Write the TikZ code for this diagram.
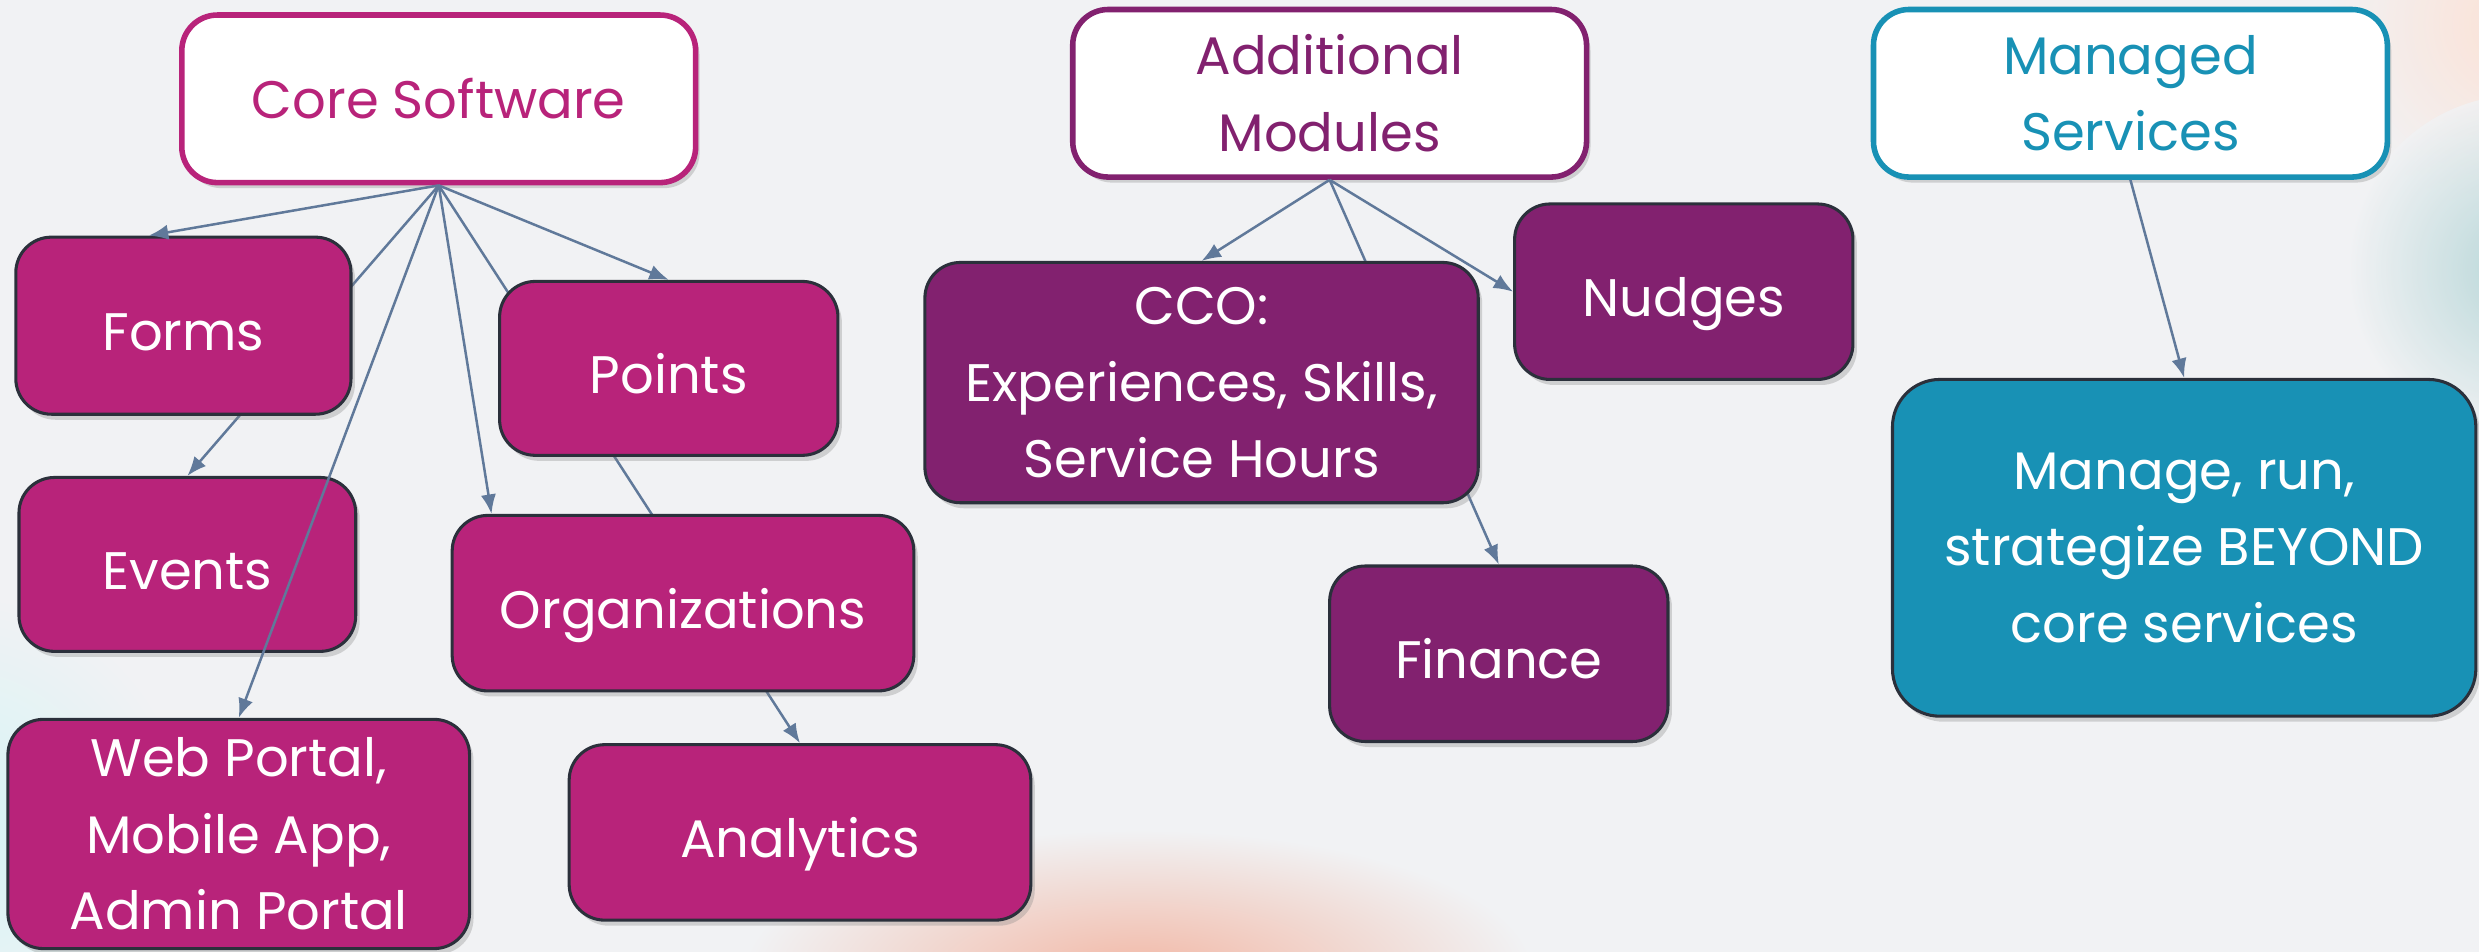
\documentclass[tikz,border=0pt]{standalone}
\usepackage{fontspec}
\setmainfont{Poppins}
\usepackage{tikz}
\usepackage{xcolor}
\usetikzlibrary{shapes, positioning, arrows.meta, shadows, backgrounds}

\definecolor{corecol}{HTML}{B8237A}
\definecolor{addcol}{HTML}{82216F}
\definecolor{mancol}{HTML}{1891B5}
\definecolor{linkcol}{HTML}{60799A}
\definecolor{rimcol}{HTML}{2B303B}
\definecolor{bgcol}{HTML}{F1F2F4}
\definecolor{peachcol}{HTML}{F2B8A6}

\tikzset{
    box/.style={rectangle, rounded corners=0.45cm, align=center, inner sep=2pt,
        font=\fontsize{19}{27.5}\selectfont,
        drop shadow={opacity=0.3, shadow xshift=0.05cm, shadow yshift=-0.07cm}},
    head/.style={box, draw=#1, line width=2pt, fill=white, text=#1,
        minimum width=6.5cm, minimum height=2.12cm},
    leaf/.style={box, draw=rimcol, line width=1.1pt, fill=#1, text=white},
    one/.style={text height=18pt, text depth=0pt},
    link/.style={draw=linkcol, line width=0.9pt, -{Latex[length=7pt, width=5.5pt]}}
}

\begin{document}
\begin{tikzpicture}
        \useasboundingbox (0, 0) rectangle (31.36, -12.04);

        % top row
        \node[head=corecol] (core) at (5.55, -1.25) {Core Software};
        \node[head=addcol] (add) at (16.82, -1.18) {Additional\\Modules};
        \node[head=mancol] (man) at (26.95, -1.18) {Managed\\Services};

        % core software
        \node[leaf=corecol, one, minimum width=4.24cm, minimum height=2.24cm] (forms) at (2.32, -4.12) {Forms};
        \node[leaf=corecol, one, minimum width=4.28cm, minimum height=2.2cm] (points) at (8.46, -4.66) {Points};
        \node[leaf=corecol, one, minimum width=4.26cm, minimum height=2.2cm] (events) at (2.37, -7.14) {Events};
        \node[leaf=corecol, one, minimum width=5.84cm, minimum height=2.22cm] (orgs) at (8.64, -7.63) {Organizations};
        \node[leaf=corecol, minimum width=5.84cm, minimum height=2.9cm] (web) at (3.02, -10.55) {Web Portal,\\Mobile App,\\Admin Portal};
        \node[leaf=corecol, one, minimum width=5.84cm, minimum height=2.22cm] (analytics) at (10.12, -10.53) {Analytics};

        % additional modules
        \node[leaf=addcol, minimum width=7cm, minimum height=3.04cm] (cco) at (15.2, -4.84) {CCO:\\Experiences, Skills,\\Service Hours};
        \node[leaf=addcol, one, minimum width=4.28cm, minimum height=2.22cm] (nudges) at (21.3, -3.69) {Nudges};
        \node[leaf=addcol, one, minimum width=4.28cm, minimum height=2.22cm] (finance) at (18.96, -8.27) {Finance};

        % managed services
        \node[leaf=mancol, rounded corners=0.6cm, minimum width=7.38cm, minimum height=4.26cm] (beyond) at (27.63, -6.93) {Manage, run,\\strategize BEYOND\\core services};

        \begin{scope}[on background layer]
            \fill[bgcol] (0, 0) rectangle (31.36, -12.04);
            \shade[inner color=peachcol, outer color=bgcol] (14.4, -12.3) ellipse (5 and 1.8);
            \shade[inner color=orange!30!pink!40, outer color=bgcol, opacity=0.8] (31.8, -0.3) circle (2.4);
            \shade[inner color=teal!30!bgcol, outer color=bgcol, opacity=0.8] (31.9, -3.4) circle (2.2);
            \shade[inner color=cyan!12!bgcol, outer color=bgcol] (-0.6, -10.5) circle (3);
            % these pass behind the boxes
            \draw[link] (core.south) to (events.north);
            \draw[link] (core.south) to (analytics.north);
            \draw[link] (add.south) to (finance.north);
        \end{scope}

        \draw[link] (core.south) to (forms.111);
        \draw[link] (core.south) to (points.north);
        \draw[link] (core.south) to (orgs.155);
        \draw[link] (core.south) to (web.north);
        \draw[link] (add.south) to (cco.north);
        \draw[link] (add.south) to (nudges.west);
        \draw[link] (man.south) to (beyond.north);
    \end{tikzpicture}
\end{document}
